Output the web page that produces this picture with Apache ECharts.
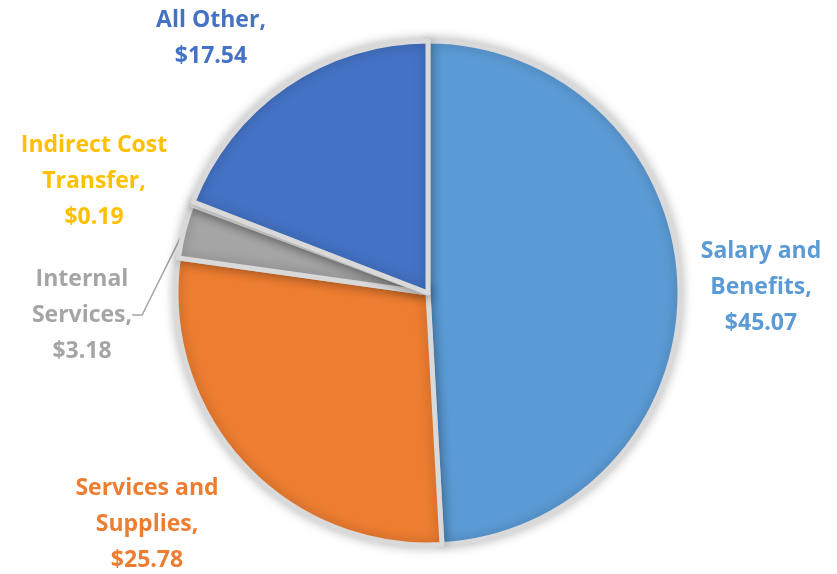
<!DOCTYPE html>
<html>
<head>
    <meta charset="UTF-8">
    <title>Spending</title>
    <script src="https://cdn.jsdelivr.net/npm/echarts@6/dist/echarts.min.js"></script>
    <style>
        html, body { margin: 0; padding: 0; background: #fff; }
        #main { width: 837px; height: 574px; }
    </style>
</head>
<body>
<div id="main"></div>
<script>
    // data
    const names = ['Salary and\nBenefits', 'Services and\nSupplies', 'Internal\nServices', 'Indirect Cost\nTransfer', 'All Other'];
    const values = [45.07, 25.78, 3.18, 0.19, 17.54];
    const colors = ['#5B9BD5', '#ED7D31', '#A5A5A5', '#FFC000', '#4472C4'];

    // where each label sits (centre of the text block)
    const labelPos = [[761, 287], [147, 524], [82, 315], [94, 181], [211, 38]];

    const chart = echarts.init(document.getElementById('main'));

    const pieData = names.map(function (n, i) {
        return {
            name: n,
            value: values[i],
            itemStyle: { color: colors[i] },
            label: { color: colors[i] },
            labelLine: { show: i === 2 }
        };
    });

    chart.setOption({
        animation: false,
        series: [{
            type: 'pie',
            center: [428, 293],
            radius: 252,
            startAngle: 90,
            clockwise: true,
            data: pieData,
            itemStyle: {
                borderColor: '#d9d9d9',
                borderWidth: 5,
                shadowBlur: 12,
                shadowColor: 'rgba(0,0,0,0.25)'
            },
            label: {
                show: true,
                position: 'outside',
                fontFamily: 'Open Sans',
                fontWeight: 'bold',
                fontSize: 23,
                lineHeight: 36,
                align: 'center',
                formatter: function (p) {
                    return p.name + ',\n$' + p.value.toFixed(2);
                }
            },
            labelLine: {
                lineStyle: { color: '#A5A5A5', width: 1.5 },
                length: 10,
                length2: 10
            },
            labelLayout: function (p) {
                const pos = labelPos[p.dataIndex];
                return {
                    x: pos[0],
                    y: pos[1],
                    align: 'center',
                    verticalAlign: 'middle'
                };
            }
        }]
    });
</script>
</body>
</html>
